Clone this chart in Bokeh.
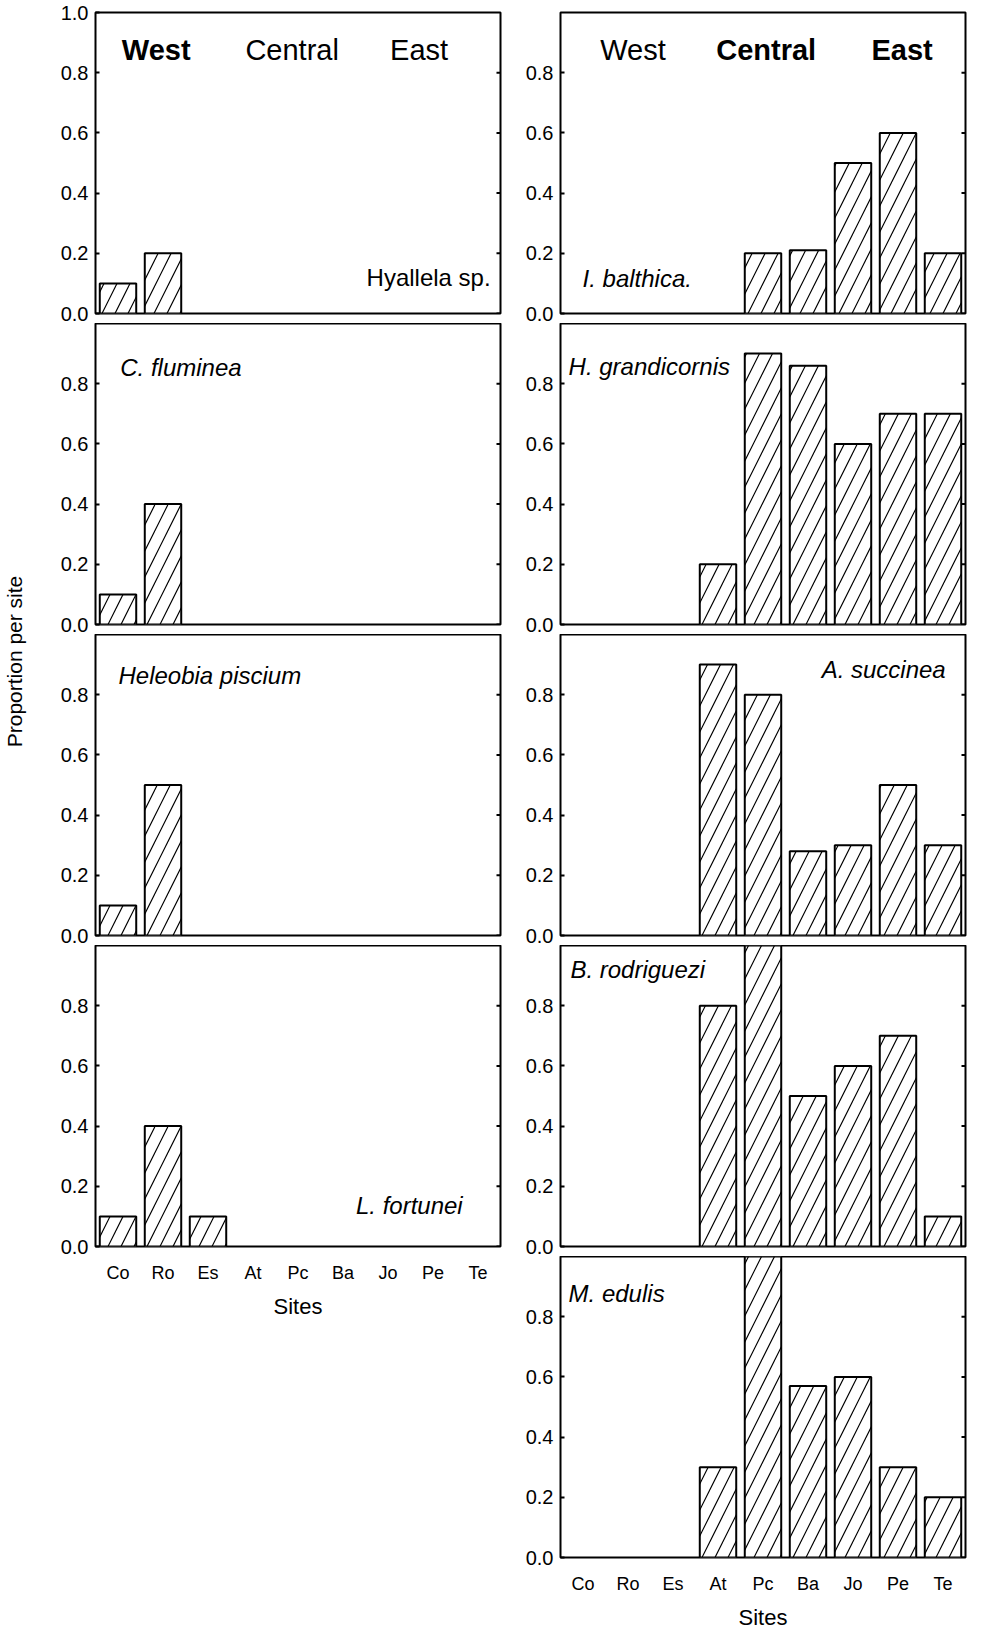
from math import pi
from bokeh.plotting import figure
from bokeh.layouts import row, column
from bokeh.models import Range1d, FactorRange, FixedTicker, Label, PrintfTickFormatter
from bokeh.embed import file_html
from bokeh.resources import INLINE

# ---------------- data ----------------
sites = ["Co", "Ro", "Es", "At", "Pc", "Ba", "Jo", "Pe", "Te"]

hyallela = [0.1, 0.2, 0, 0, 0, 0, 0, 0, 0]
c_fluminea = [0.1, 0.4, 0, 0, 0, 0, 0, 0, 0]
heleobia_piscium = [0.1, 0.5, 0, 0, 0, 0, 0, 0, 0]
l_fortunei = [0.1, 0.4, 0.1, 0, 0, 0, 0, 0, 0]

i_balthica = [0, 0, 0, 0, 0.2, 0.21, 0.5, 0.6, 0.2]
h_grandicornis = [0, 0, 0, 0.2, 0.9, 0.86, 0.6, 0.7, 0.7]
a_succinea = [0, 0, 0, 0.9, 0.8, 0.28, 0.3, 0.5, 0.3]
b_rodriguezi = [0, 0, 0, 0.8, 1.0, 0.5, 0.6, 0.7, 0.1]
m_edulis = [0, 0, 0, 0.3, 1.0, 0.57, 0.6, 0.3, 0.2]

regions = ["West", "Central", "East"]
y_ticks = [0.0, 0.2, 0.4, 0.6, 0.8]
y_ticks_top = [0.0, 0.2, 0.4, 0.6, 0.8, 1.0]

FONT = "Liberation Sans"
FW, FH = 405, 301
TOP_B, GAP, BOT_B = 12, 10, 72


def panel(vals, species, sp_x, sp_y, sp_align, sp_style, left_col, top=False, bottom=False):
    p = figure(x_range=FactorRange(*sites), y_range=Range1d(0, 1),
               frame_width=FW, frame_height=FH,
               output_backend="svg", toolbar_location=None,
               min_border_left=65 if left_col else 40,
               min_border_right=20 if left_col else 4,
               min_border_top=TOP_B if top else 0,
               min_border_bottom=BOT_B if bottom else GAP,
               background_fill_color="white", border_fill_color="white")
    p.outline_line_color = "black"
    p.outline_line_width = 2
    p.grid.visible = False

    xs = [s for s, v in zip(sites, vals) if v > 0]
    tops = [v for v in vals if v > 0]
    p.vbar(x=xs, top=tops, width=0.81, fill_color="white", line_color="black",
           line_width=2, hatch_pattern="/", hatch_color="black", hatch_scale=26,
           hatch_weight=1.2)

    ticks = y_ticks_top if (top and left_col) else y_ticks
    ya = p.yaxis[0]
    ya.ticker = FixedTicker(ticks=ticks)
    ya.formatter = PrintfTickFormatter(format="%.1f")
    ya.axis_line_color = None
    ya.major_tick_in = 4
    ya.major_tick_out = 0
    ya.major_tick_line_width = 2
    ya.minor_tick_line_color = None
    ya.major_label_standoff = 7
    ya.major_label_text_font = FONT
    ya.major_label_text_font_size = "20px"
    ya.major_label_text_color = "black"

    # inward tick marks on the right-hand frame edge
    p.ray(x=[len(sites)] * len(y_ticks), y=y_ticks, length=4, length_units="screen",
          angle=pi, line_color="black", line_width=2)

    xa = p.xaxis[0]
    if bottom:
        xa.axis_line_color = None
        xa.major_tick_line_color = None
        xa.major_tick_in = 0
        xa.major_tick_out = 0
        xa.major_label_standoff = 16
        xa.major_label_text_font = FONT
        xa.major_label_text_font_size = "18px"
        xa.major_label_text_color = "black"
        xa.axis_label = "Sites"
        xa.axis_label_text_font = FONT
        xa.axis_label_text_font_size = "22px"
        xa.axis_label_text_font_style = "normal"
        xa.axis_label_text_color = "black"
        xa.axis_label_standoff = 8
    else:
        xa.visible = False

    p.add_layout(Label(x=sp_x, y=sp_y, text=species, text_font=FONT,
                       text_font_size="24px", text_font_style=sp_style,
                       text_align=sp_align, text_baseline="alphabetic",
                       text_color="black"))
    return p


def add_regions(p, xpos, bold):
    for name, x, b in zip(regions, xpos, bold):
        p.add_layout(Label(x=x, y=0.874, text=name, text_font=FONT,
                           text_font_size="29px",
                           text_font_style="bold" if b else "normal",
                           text_align="center", text_baseline="alphabetic",
                           text_color="black"))


# left column
l1 = panel(hyallela, "Hyallela sp.", 8.78, 0.12, "right", "normal", True, top=True)
add_regions(l1, [1.35, 4.37, 7.19], [True, False, False])
l2 = panel(c_fluminea, "C. fluminea", 0.55, 0.854, "left", "italic", True)
l3 = panel(heleobia_piscium, "Heleobia piscium", 0.51, 0.864, "left", "italic", True)
l4 = panel(l_fortunei, "L. fortunei", 8.16, 0.136, "right", "italic", True, bottom=True)

# right column
r1 = panel(i_balthica, "I. balthica.", 0.49, 0.117, "left", "italic", False, top=True)
add_regions(r1, [1.61, 4.57, 7.59], [False, True, True])
r2 = panel(h_grandicornis, "H. grandicornis", 0.18, 0.857, "left", "italic", False)
r3 = panel(a_succinea, "A. succinea", 8.56, 0.883, "right", "italic", False)
r4 = panel(b_rodriguezi, "B. rodriguezi", 0.22, 0.92, "left", "italic", False)
r5 = panel(m_edulis, "M. edulis", 0.18, 0.877, "left", "italic", False, bottom=True)

# shared y label
LH = 1320
lab = figure(width=30, height=LH, x_range=Range1d(0, 1), y_range=Range1d(0, 1),
             output_backend="svg", toolbar_location=None, min_border=0,
             background_fill_color="white", border_fill_color="white")
lab.outline_line_color = None
lab.axis.visible = False
lab.grid.visible = False
lab.add_layout(Label(x=0.45, y=1 - 661 / LH, text="Proportion per site", angle=pi / 2,
                     text_font=FONT, text_font_size="21px", text_align="center",
                     text_baseline="middle", text_color="black"))

layout = row(lab, column(l1, l2, l3, l4), column(r1, r2, r3, r4, r5))
open("out.html", "w").write(file_html(layout, INLINE))
